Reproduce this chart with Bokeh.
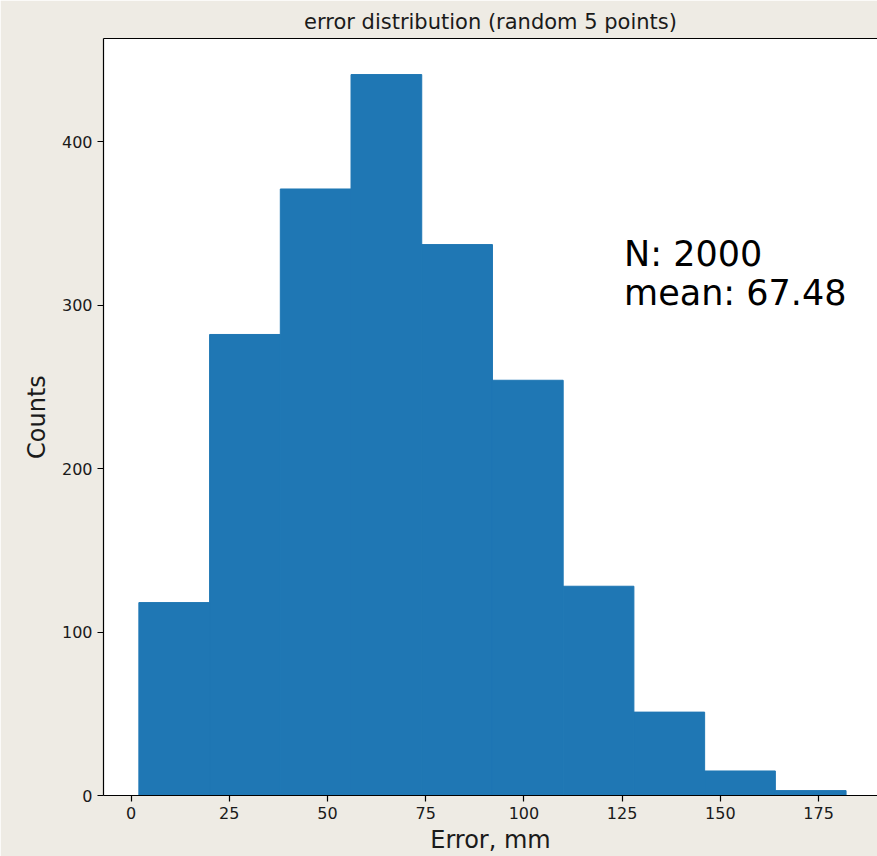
from bokeh.plotting import figure
from bokeh.models import Range1d, Label, LinearAxis, FixedTicker
from bokeh.embed import file_html
from bokeh.resources import INLINE

# ---- data ----
bin_edges = [2, 20, 38, 56, 74, 92, 110, 128, 146, 164, 182]
counts = [118, 282, 371, 441, 337, 254, 128, 51, 15, 3]
x_ticks = [0, 25, 50, 75, 100, 125, 150, 175]
y_ticks = [0, 100, 200, 300, 400]
title_text = "error distribution (random 5 points)"
x_label = "Error, mm"
y_label = "Counts"
n_total = 2000
mean_err = 67.48

BG = "#eeebe4"
BAR = "#1f77b4"
FONT = "DejaVu Sans"
TXT = "#1a1a1a"

span = bin_edges[-1] - bin_edges[0]
p = figure(width=877, height=856, output_backend="svg", toolbar_location=None,
           x_range=Range1d(bin_edges[0] - 0.05 * span, 190),
           y_range=Range1d(0, max(counts) * 1.05),
           min_border_left=103, min_border_right=0, min_border_top=38, min_border_bottom=59)

p.background_fill_color = "white"
p.border_fill_color = BG
p.outline_line_color = None
p.grid.visible = False

p.quad(left=bin_edges[:-1], right=bin_edges[1:], bottom=0, top=counts,
       fill_color=BAR, line_color=BAR, line_width=1)

p.title.text = title_text
p.title.align = "center"
p.title.text_font = FONT
p.title.text_font_size = "21px"
p.title.text_font_style = "normal"
p.title.text_color = TXT
p.title.standoff = 9
p.title.offset = 0

for ax in (p.xaxis[0], p.yaxis[0]):
    ax.axis_line_color = "black"
    ax.axis_line_width = 1.2
    ax.major_tick_line_color = "black"
    ax.major_tick_line_width = 1.2
    ax.major_tick_out = 6
    ax.major_tick_in = 0
    ax.minor_tick_line_color = None
    ax.major_label_text_font = FONT
    ax.major_label_text_font_size = "16px"
    ax.major_label_text_color = TXT
    ax.major_label_standoff = 5
    ax.axis_label_text_font = FONT
    ax.axis_label_text_font_size = "24px"
    ax.axis_label_text_font_style = "normal"
    ax.axis_label_text_color = TXT
    ax.axis_label_standoff = 4

p.xaxis[0].ticker = FixedTicker(ticks=x_ticks)
p.yaxis[0].ticker = FixedTicker(ticks=y_ticks)
p.xaxis[0].axis_label = x_label
p.yaxis[0].axis_label = y_label
p.yaxis[0].major_label_orientation = "horizontal"
p.yaxis[0].axis_label_standoff = 8

# top spine
top = LinearAxis(ticker=FixedTicker(ticks=[]), major_label_text_font_size="0px",
                 axis_line_color="black", axis_line_width=1.2,
                 major_tick_line_color=None, minor_tick_line_color=None)
p.add_layout(top, "above")

p.add_layout(Label(x=125.5, y=331.5, text=f"N: {n_total}", text_font=FONT,
                   text_font_size="35px", text_color="black", text_baseline="alphabetic"))
p.add_layout(Label(x=125.5, y=307.5, text=f"mean: {mean_err:.2f}", text_font=FONT,
                   text_font_size="35px", text_color="black", text_baseline="alphabetic"))

open("out.html", "w").write(file_html(p, INLINE))
